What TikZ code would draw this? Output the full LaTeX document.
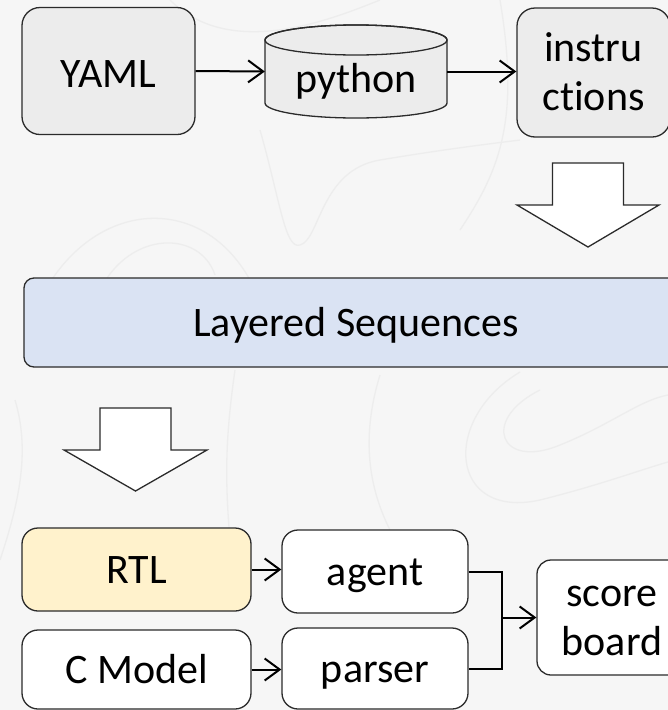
\documentclass[tikz,border=0pt]{standalone}
\usepackage{fontspec}
\setmainfont{Carlito}[Ligatures={NoCommon}]
\usetikzlibrary{arrows.meta,calc}
\definecolor{bg}{HTML}{F6F6F6}
\definecolor{contour}{HTML}{EDEDED}
\definecolor{greyfill}{HTML}{ECECEC}
\definecolor{bluefill}{HTML}{DAE3F3}
\definecolor{yellowfill}{HTML}{FFF2CC}
\definecolor{edge}{HTML}{2B2B2B}
\begin{document}
\begin{tikzpicture}[x=1pt,y=-1pt,
  font=\fontsize{42}{49}\selectfont,
  box/.style={draw=edge, line width=1.3pt, rounded corners=16pt, inner sep=0pt,
              text height=27pt, text depth=0pt, align=center},
  twoline/.style={text height=76pt},
  flow/.style={line width=2pt, -{Straight Barb[length=15pt,width=22pt,line width=2pt]}},
  blockarrow/.style={draw=edge, line width=1.3pt, fill=white, line join=miter},
  contourline/.style={draw=contour, line width=1.3pt}]

% page and background
\useasboundingbox (0,0) rectangle (668,710);
\clip (0,0) rectangle (668,710);
\fill[bg] (0,0) rectangle (668,710);

% faint topographic texture
\draw[contourline] (40,300) .. controls (90,200) and (200,190) .. (250,280);
\draw[contourline] (100,290) .. controls (130,230) and (200,230) .. (215,275);
\draw[contourline] (260,130) .. controls (280,200) and (285,250) .. (300,245)
                   .. controls (320,240) and (320,170) .. (380,160)
                   .. controls (440,150) and (480,145) .. (520,140);
\draw[contourline] (235,370) .. controls (225,440) and (225,480) .. (230,540);
\draw[contourline] (380,375) .. controls (360,440) and (370,490) .. (390,530);
\draw[contourline] (540,390) .. controls (480,420) and (500,470) .. (560,445)
                   .. controls (610,425) and (640,400) .. (668,395);
\draw[contourline] (520,372) .. controls (440,420) and (450,520) .. (540,500)
                   .. controls (600,485) and (640,470) .. (668,462);
\draw[contourline] (170,0) .. controls (230,60) and (330,20) .. (380,0);
\draw[contourline] (0,560) .. controls (20,500) and (30,450) .. (15,400);
\draw[contourline] (460,230) .. controls (500,170) and (520,120) .. (500,0);

% python cylinder
\path[draw=edge, line width=1.3pt, fill=greyfill]
  (265,40) -- (265,103) arc[start angle=180, end angle=360, x radius=91pt, y radius=15pt]
  -- (447,40) arc[start angle=0, end angle=180, x radius=91pt, y radius=15pt] -- cycle;
\draw[edge, line width=1.3pt] (356,40) ellipse[x radius=91pt, y radius=15pt];

% top row
\node[box, fill=greyfill, rounded corners=18pt, minimum width=173pt, minimum height=127pt,
      text height=32pt] (yaml) at (108.5,71) {YAML};
\node[inner sep=0pt, minimum width=182pt, minimum height=93pt,
      text height=41pt, text depth=0pt] (python) at (356,71.5) {python};
\node[box, twoline, fill=greyfill, rounded corners=18pt, minimum width=153pt, minimum height=129pt]
      (instr) at (593.5,72.5) {instru\\ctions};

% middle band
\node[box, fill=bluefill, rounded corners=10pt, minimum width=664pt, minimum height=89pt]
      (layers) at (356,322.5) {Layered Sequences};

% bottom block
\node[box, fill=yellowfill, minimum width=229pt, minimum height=83pt] (rtl) at (136.5,569.5) {RTL};
\node[box, fill=white, minimum width=186pt, minimum height=83pt] (agent) at (375,571.5) {agent};
\node[box, fill=white, minimum width=229pt, minimum height=79pt] (cmodel) at (136.5,669.5) {C Model};
\node[box, fill=white, minimum width=186pt, minimum height=81pt] (parser) at (375,668.5) {parser};
\node[box, twoline, fill=white, rounded corners=14pt, minimum width=150pt, minimum height=115pt]
      (score) at (612,617.5) {score\\board};

% block arrows
\draw[blockarrow] (552.5,163) -- (623.5,163) -- (623.5,205) -- (659,205) -- (588,247)
                  -- (517,205) -- (552.5,205) -- cycle;
\draw[blockarrow] (100,408) -- (171,408) -- (171,450) -- (207,450) -- (135.5,491)
                  -- (64,450) -- (100,450) -- cycle;

% connectors
\draw[flow] (yaml.east) -- (python.west);
\draw[flow] (python.east) -- (python.east -| instr.west);
\draw[flow] (rtl.east) -- (rtl.east -| agent.west);
\draw[flow] (cmodel.east) -- (cmodel.east -| parser.west);
\coordinate (merge) at (502,617.5);
\draw[line width=2pt] (agent.east) -| (merge) |- (parser.east);
\draw[flow] (merge) -- (score.west);
\end{tikzpicture}
\end{document}
